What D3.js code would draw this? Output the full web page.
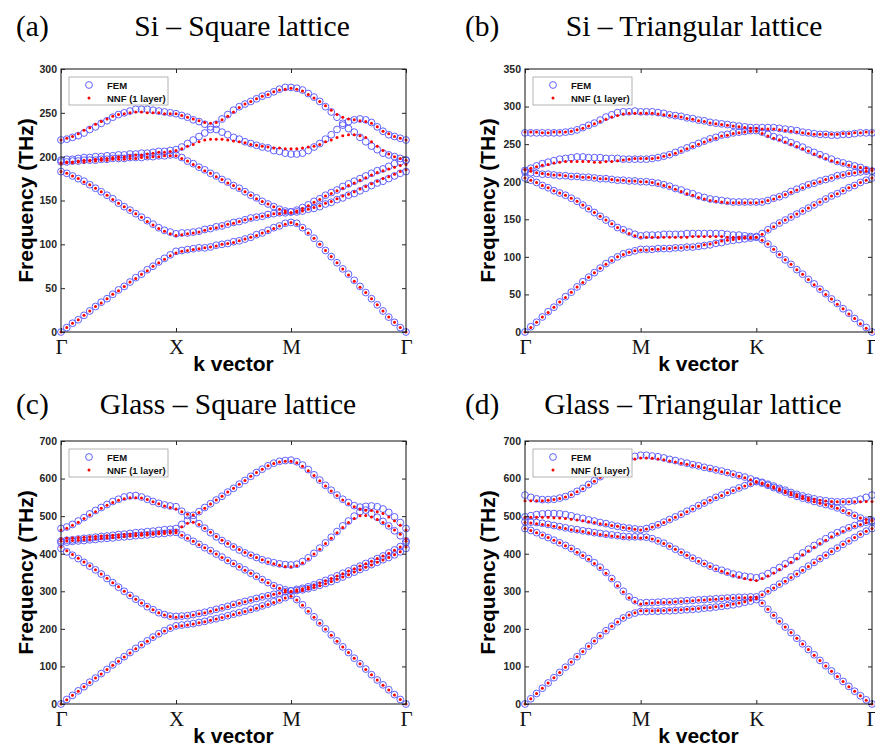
<!DOCTYPE html>
<html>
<head>
<meta charset="utf-8">
<script src="https://d3js.org/d3.v7.min.js"></script>
<style>
body { margin: 0; background: #fff; }
svg { display: block; }
</style>
</head>
<body>
<svg id="fig" width="875" height="747"></svg>
<script>
// k-path labels (21 points per segment, 61 per band)
var squarePath = ["Γ", "X", "M", "Γ"];
var triPath = ["Γ", "M", "K", "Γ"];

// (a) Si - square lattice, THz
var siSquareFem = [
  [0,5,10,14,19,24,29,34,38,43,48,52,57,62,66,71,75,80,84,88,92, 93,94,95,96,96,97,99,100,101,103,104,106,108,111,113,116,119,121,124,125, 124,119,114,107,100,93,86,79,72,66,59,52,45,38,31,24,17,11,5,0],
  [183,181,178,175,172,168,164,160,156,152,147,143,139,135,131,127,123,119,116,114,112, 113,113,114,115,117,118,120,121,123,125,126,128,130,131,132,134,135,136,136,137, 137,138,140,141,143,146,148,151,153,156,158,161,164,167,170,172,175,178,181,183],
  [194,194,195,195,196,196,196,197,197,198,198,198,199,199,199,200,200,201,201,202,202, 199,195,192,188,185,181,178,174,171,167,164,160,156,153,149,146,143,140,138,137, 139,142,145,149,152,156,159,162,166,169,172,175,178,181,184,186,189,192,194,196],
  [196,197,197,198,199,199,200,200,201,201,202,202,203,203,204,204,205,206,206,207,208, 211,215,219,223,227,231,231,228,225,222,220,217,215,213,211,210,207,206,204,203, 203,204,207,211,215,220,225,231,236,232,228,222,217,212,208,204,202,200,198,196],
  [219,220,222,224,227,231,234,238,241,245,248,250,252,254,254,254,253,252,251,250,249, 247,245,242,240,237,234,237,243,248,253,257,260,263,266,269,271,274,277,279,279, 278,276,272,268,263,257,251,245,238,240,242,243,242,239,234,229,225,223,221,219]
];
var siSquareNnf = [
  [0,5,10,14,19,24,29,33,38,43,47,52,57,61,66,70,75,79,83,87,90, 92,93,94,95,96,97,98,100,101,102,104,106,108,110,113,115,118,121,123,125, 123,119,113,107,100,93,86,79,72,65,58,51,45,38,31,24,17,11,5,0],
  [183,181,178,175,171,168,164,160,156,151,147,143,139,135,131,126,122,118,115,112,110, 111,112,113,114,116,118,119,121,123,124,126,128,129,131,132,133,135,135,136,136, 137,138,140,142,144,147,149,152,155,157,160,163,166,169,172,175,177,180,183,185],
  [192,193,193,194,194,195,195,196,196,197,197,197,198,198,199,199,200,200,201,201,201, 198,195,191,188,184,181,177,174,170,167,163,160,156,152,149,146,143,140,138,136, 138,141,144,148,151,155,158,161,164,167,170,173,176,179,182,184,186,188,190,191],
  [193,194,194,195,196,196,197,198,198,199,200,200,201,202,202,203,204,205,205,206,207, 209,212,214,217,219,220,220,220,219,218,217,216,214,213,212,211,210,210,209,209, 209,210,211,212,214,217,219,222,224,225,225,224,222,217,212,207,203,200,198,196],
  [219,221,223,226,230,233,237,240,243,246,248,249,250,251,251,250,250,250,249,249,249, 247,245,243,241,239,238,239,242,246,251,256,260,263,266,269,271,274,276,277,278, 277,275,271,267,263,258,253,248,245,243,242,241,240,238,234,229,226,223,221,219]
];

// (b) Si - triangular lattice
var siTriFem = [
  [0,7,13,20,27,33,40,47,53,60,67,73,79,85,91,96,100,104,106,108,110, 110,110,111,111,111,112,112,113,113,114,115,116,118,119,121,122,123,124,125,126, 123,117,110,103,96,90,83,77,70,64,57,51,44,38,31,25,18,12,6,0],
  [205,202,199,195,192,188,185,182,178,174,169,164,159,154,149,144,139,136,133,130,128, 129,129,129,130,130,130,130,131,131,131,131,131,131,131,130,129,129,128,127,127, 131,136,141,145,149,153,157,161,165,169,173,177,181,184,188,192,195,199,202,205],
  [213,212,211,210,210,209,208,208,207,207,206,206,205,204,204,203,202,202,201,201,200, 200,199,198,196,194,191,189,186,184,181,179,177,176,175,174,173,173,173,173,173, 173,175,178,180,183,187,190,193,196,198,201,203,205,208,209,211,212,213,214,214],
  [215,218,221,224,226,228,230,231,232,233,233,232,232,232,231,231,231,230,230,230,230, 230,231,232,234,236,239,242,245,248,251,254,257,259,262,263,265,266,267,268,268, 266,263,260,258,255,252,249,246,242,239,236,233,230,227,225,223,221,219,216,214],
  [265,265,265,265,265,265,265,266,267,269,272,275,278,282,286,289,292,293,293,294,293, 293,293,292,291,289,288,287,285,284,282,281,279,278,277,276,275,274,273,272,272, 272,272,272,271,270,269,268,266,265,264,263,263,262,262,263,263,264,265,265,265]
];
var siTriNnf = [
  [0,6,13,20,26,33,40,46,53,60,66,73,79,85,90,95,100,103,106,108,109, 109,110,110,111,111,112,112,113,113,114,116,117,119,121,122,123,124,125,125,126, 122,117,110,103,96,90,83,77,70,63,57,50,44,37,31,24,18,11,5,0],
  [205,202,199,195,192,188,185,182,178,174,169,164,159,154,149,144,139,135,131,128,126, 126,126,126,126,126,126,126,126,127,127,127,127,127,127,126,126,126,126,126,126, 130,135,140,145,149,153,157,161,165,169,173,177,181,184,188,192,195,199,202,205],
  [216,214,212,211,210,209,209,208,207,207,206,206,205,204,204,203,202,202,201,201,200, 200,199,197,195,193,190,187,184,182,179,177,175,174,173,172,172,172,172,172,172, 173,175,177,180,183,186,189,192,195,198,200,203,205,207,209,211,212,213,214,215],
  [216,218,220,222,223,225,226,227,227,227,227,227,226,226,227,227,228,229,230,231,231, 231,231,232,234,236,238,241,244,247,250,253,256,258,261,262,264,265,266,267,267, 264,261,258,256,253,250,247,244,241,237,234,231,228,226,224,222,220,219,218,217],
  [266,266,266,265,265,266,266,266,267,269,271,274,277,280,283,286,288,290,291,291,291, 291,291,290,289,288,287,286,284,283,281,280,278,277,276,275,274,273,272,271,271, 270,270,270,269,268,267,266,265,264,263,263,263,263,263,264,264,265,265,266,266]
];

// (c) Glass - square lattice
var glassSquareFem = [
  [0,12,23,35,46,58,69,81,92,104,115,126,137,148,158,168,178,187,195,202,208, 210,212,214,217,220,224,227,231,235,239,243,247,252,256,261,266,272,277,283,289, 278,264,248,232,216,200,184,168,152,137,122,107,93,78,64,51,38,25,12,0],
  [414,405,396,387,377,367,357,346,334,323,311,300,289,279,269,259,251,243,238,234,233, 234,235,238,241,244,248,252,256,260,265,269,273,277,281,285,288,292,295,299,301, 302,304,307,311,316,321,326,332,338,345,351,358,364,371,377,384,390,397,405,414],
  [430,431,433,434,435,437,438,440,441,442,444,445,446,448,449,450,452,453,454,456,457, 450,442,433,425,416,408,399,391,382,374,365,357,348,340,331,323,315,309,304,301, 305,308,312,317,323,329,335,341,348,354,361,367,374,380,387,394,402,410,419,430],
  [434,436,437,439,441,442,444,446,447,449,451,452,454,456,457,459,460,462,464,465,467, 478,489,491,480,468,456,445,435,426,418,410,402,396,390,384,380,376,373,371,370, 372,379,389,401,415,429,444,459,474,487,500,512,516,507,497,486,474,461,448,434],
  [467,471,478,487,496,506,515,523,531,539,545,551,554,555,551,545,539,534,530,527,525, 513,502,502,512,523,533,543,553,564,574,585,595,606,616,625,634,641,646,648,649, 645,636,624,610,596,582,569,556,545,536,528,524,526,527,525,519,510,498,483,467]
];
var glassSquareNnf = [
  [0,11,23,34,46,57,69,80,92,103,114,125,136,147,157,167,177,186,194,201,206, 208,210,213,216,219,223,226,230,234,238,242,246,251,255,260,265,270,276,282,287, 277,263,247,231,215,199,183,167,152,137,122,107,92,78,64,50,37,24,12,0],
  [418,408,398,388,378,368,357,346,335,323,312,300,289,279,269,260,251,243,237,233,231, 232,234,237,240,243,247,251,255,259,264,268,272,276,280,284,288,292,295,298,299, 300,302,306,310,315,320,326,332,338,344,351,357,364,370,377,383,390,397,405,418],
  [433,434,435,436,437,438,440,441,442,443,444,446,447,448,449,450,452,453,454,455,456, 449,441,433,424,416,407,399,390,382,373,365,356,348,339,331,323,315,308,303,300, 304,307,311,316,322,328,334,341,347,354,360,367,373,380,387,394,401,409,418,433],
  [440,441,442,443,444,445,446,447,448,449,450,451,452,453,454,455,456,458,459,460,462, 472,481,484,478,468,457,446,436,427,419,411,403,396,390,384,378,373,369,366,365, 368,375,386,399,412,427,441,456,470,483,494,501,502,498,491,483,474,463,452,440],
  [463,468,476,484,494,503,512,521,529,536,542,546,549,549,548,544,538,533,527,523,519, 512,505,503,510,521,532,543,553,564,574,585,595,606,616,625,634,640,644,646,646, 642,633,621,608,594,580,567,555,543,533,525,519,516,515,512,507,498,488,476,463]
];

// (d) Glass - triangular lattice
var glassTriFem = [
  [0,14,28,42,56,70,84,98,112,126,140,154,168,182,195,207,219,229,237,242,246, 246,247,247,248,248,249,250,251,252,253,255,256,258,260,262,264,267,271,274,278, 268,252,236,221,205,190,175,160,145,131,116,102,88,74,60,47,34,22,11,0],
  [467,462,456,449,443,436,429,422,414,405,396,387,376,364,350,334,317,300,285,275,269, 270,270,271,272,272,273,274,275,276,277,278,279,280,281,282,283,284,284,285,285, 292,301,310,319,328,338,347,357,367,377,387,396,406,415,425,434,443,452,460,467],
  [485,484,483,481,478,475,472,469,466,464,461,459,456,454,452,450,448,446,445,445,445, 444,440,434,428,420,412,404,396,388,381,374,367,361,356,351,346,343,340,338,336, 340,347,355,363,373,382,392,402,412,422,431,440,449,456,463,469,475,480,484,488],
  [498,501,504,506,507,507,506,504,501,497,494,490,487,483,480,476,473,470,468,466,464, 467,472,477,484,491,498,505,513,520,528,535,543,550,556,563,569,575,581,587,592, 588,582,576,570,564,558,553,548,544,539,535,531,527,522,516,509,502,495,489,485],
  [556,550,546,544,544,545,548,552,558,566,574,584,594,605,616,627,637,646,653,659,662, 662,660,658,655,651,648,644,641,637,634,630,627,623,620,616,612,608,604,599,594, 590,585,580,574,569,563,558,554,550,546,543,541,539,538,538,539,541,545,550,556]
];
var glassTriNnf = [
  [0,14,28,42,56,70,84,98,112,126,140,154,168,181,194,207,218,229,237,243,248, 248,248,249,249,250,250,251,252,253,254,256,257,259,261,263,266,269,272,276,280, 269,252,236,220,205,190,175,160,145,130,116,101,87,73,60,46,34,22,10,0],
  [467,462,456,450,443,436,429,421,413,404,395,385,374,362,348,332,315,298,283,272,266, 268,269,270,270,271,272,273,274,275,276,277,278,279,280,281,282,283,283,284,284, 291,300,309,318,327,337,346,356,366,376,386,396,406,415,425,434,443,452,460,467],
  [483,482,480,478,476,473,470,467,464,461,459,456,454,451,449,447,446,444,443,443,442, 443,439,434,427,420,412,404,396,388,380,373,366,359,353,348,342,338,334,331,329, 334,341,349,358,367,377,387,397,407,417,427,436,445,453,460,467,473,478,483,487],
  [497,497,497,497,497,496,495,494,492,490,488,485,483,480,478,475,473,470,468,465,463, 466,471,476,483,490,497,504,512,519,527,534,542,549,555,562,568,574,580,585,590, 586,581,575,569,563,557,552,547,542,538,534,530,526,521,515,508,501,495,491,490],
  [541,541,541,541,542,544,547,551,557,565,573,583,593,603,614,624,633,641,647,652,655, 655,654,652,650,647,644,641,638,635,632,629,625,622,618,615,611,606,602,597,592, 588,583,578,573,567,562,557,552,548,545,542,540,539,538,538,538,538,538,539,539]
];

var yTicksSi = [0, 50, 100, 150, 200, 250, 300];
var yTicksSiTri = [0, 50, 100, 150, 200, 250, 300, 350];
var yTicksGlass = [0, 100, 200, 300, 400, 500, 600, 700];

// layout of the four panels
var panels = [
  {tag: "(a)", title: "Si – Square lattice", fem: siSquareFem, nnf: siSquareNnf, path: squarePath, ticks: yTicksSi,
   left: 61, right: 406, top: 69, bottom: 332, tagX: 16, titleX: 242, titleY: 36, ylabX: 33, tickY: 354, xlabY: 371},
  {tag: "(b)", title: "Si – Triangular lattice", fem: siTriFem, nnf: siTriNnf, path: triPath, ticks: yTicksSiTri,
   left: 525, right: 872, top: 69, bottom: 332, tagX: 465, titleX: 694, titleY: 36, ylabX: 495, tickY: 354, xlabY: 371},
  {tag: "(c)", title: "Glass – Square lattice", fem: glassSquareFem, nnf: glassSquareNnf, path: squarePath, ticks: yTicksGlass,
   left: 61, right: 406, top: 441, bottom: 704, tagX: 16, titleX: 228, titleY: 414, ylabX: 33, tickY: 726, xlabY: 743},
  {tag: "(d)", title: "Glass – Triangular lattice", fem: glassTriFem, nnf: glassTriNnf, path: triPath, ticks: yTicksGlass,
   left: 525, right: 872, top: 441, bottom: 704, tagX: 465, titleX: 693, titleY: 414, ylabX: 495, tickY: 726, xlabY: 743}
];

var svg = d3.select("#fig");
var serif = "'Liberation Serif', 'Times New Roman', serif";
var sans = "'Liberation Sans', Arial, sans-serif";
var axisColor = "#262626";
var femColor = "#5a5aff";

panels.forEach(function (p) {
  var x = d3.scaleLinear().domain([0, 60]).range([p.left, p.right]);
  var y = d3.scaleLinear().domain([0, p.ticks[p.ticks.length - 1]]).range([p.bottom, p.top]);
  var g = svg.append("g");

  // flatten bands into points
  function points(bands) {
    var out = [];
    bands.forEach(function (band) {
      band.forEach(function (v, i) { out.push([i, v]); });
    });
    return out;
  }

  g.append("g").selectAll("circle")
    .data(points(p.fem))
    .join("circle")
    .attr("cx", function (d) { return x(d[0]); })
    .attr("cy", function (d) { return y(d[1]); })
    .attr("r", 3.4)
    .attr("fill", "none")
    .attr("stroke", femColor)
    .attr("stroke-width", 0.95);

  g.append("g").selectAll("circle")
    .data(points(p.nnf))
    .join("circle")
    .attr("cx", function (d) { return x(d[0]); })
    .attr("cy", function (d) { return y(d[1]); })
    .attr("r", 1.5)
    .attr("fill", "#ff0000");

  // axes, ticks pointing inward
  var kTicks = [0, 20, 40, 60];
  var left = g.append("g").attr("transform", "translate(" + p.left + ",0)")
    .call(d3.axisLeft(y).tickValues(p.ticks).tickSize(-4).tickPadding(4));
  left.selectAll("text").style("font-family", sans).style("font-weight", "bold")
    .style("font-size", "10.5px").attr("fill", axisColor);
  g.append("g").attr("transform", "translate(" + p.right + ",0)")
    .call(d3.axisRight(y).tickValues(p.ticks).tickSize(-4).tickFormat(""));
  var bottom = g.append("g").attr("transform", "translate(0," + p.bottom + ")")
    .call(d3.axisBottom(x).tickValues(kTicks).tickSize(-4).tickPadding(7)
      .tickFormat(function (d, i) { return p.path[i]; }));
  bottom.selectAll("text").style("font-family", serif).style("font-size", "21px").attr("fill", "#111");
  g.append("g").attr("transform", "translate(0," + p.top + ")")
    .call(d3.axisTop(x).tickValues(kTicks).tickSize(-4).tickFormat(""));
  g.selectAll(".domain").remove();
  g.selectAll(".tick line").attr("stroke", axisColor);

  g.append("rect")
    .attr("x", p.left).attr("y", p.top)
    .attr("width", p.right - p.left).attr("height", p.bottom - p.top)
    .attr("fill", "none").attr("stroke", axisColor).attr("stroke-width", 1.1);

  // legend
  var lg = g.append("g").attr("transform", "translate(" + (p.left + 8) + "," + (p.top + 8) + ")");
  lg.append("rect").attr("width", 99).attr("height", 28)
    .attr("fill", "#fff").attr("stroke", "#a0a0a0").attr("stroke-width", 0.8);
  lg.append("circle").attr("cx", 20).attr("cy", 8).attr("r", 3.4)
    .attr("fill", "none").attr("stroke", femColor).attr("stroke-width", 0.95);
  lg.append("circle").attr("cx", 20).attr("cy", 21).attr("r", 1.5).attr("fill", "#ff0000");
  lg.selectAll("text.lab").data(["FEM", "NNF (1 layer)"]).join("text")
    .attr("x", 38).attr("y", function (d, i) { return 11.5 + i * 13; })
    .style("font-family", sans).style("font-weight", "bold").style("font-size", "9.5px")
    .attr("fill", "#111").text(function (d) { return d; });

  // titles and axis labels
  svg.append("text").attr("x", p.tagX).attr("y", p.titleY)
    .style("font-family", serif).style("font-size", "29.5px").text(p.tag);
  svg.append("text").attr("x", p.titleX).attr("y", p.titleY).attr("text-anchor", "middle")
    .style("font-family", serif).style("font-size", "29.5px").text(p.title);
  svg.append("text")
    .attr("transform", "translate(" + p.ylabX + "," + ((p.top + p.bottom) / 2) + ") rotate(-90)")
    .attr("text-anchor", "middle")
    .style("font-family", sans).style("font-weight", "bold").style("font-size", "21px")
    .text("Frequency (THz)");
  svg.append("text").attr("x", (p.left + p.right) / 2).attr("y", p.xlabY).attr("text-anchor", "middle")
    .style("font-family", sans).style("font-weight", "bold").style("font-size", "21px")
    .text("k vector");
});
</script>
</body>
</html>
